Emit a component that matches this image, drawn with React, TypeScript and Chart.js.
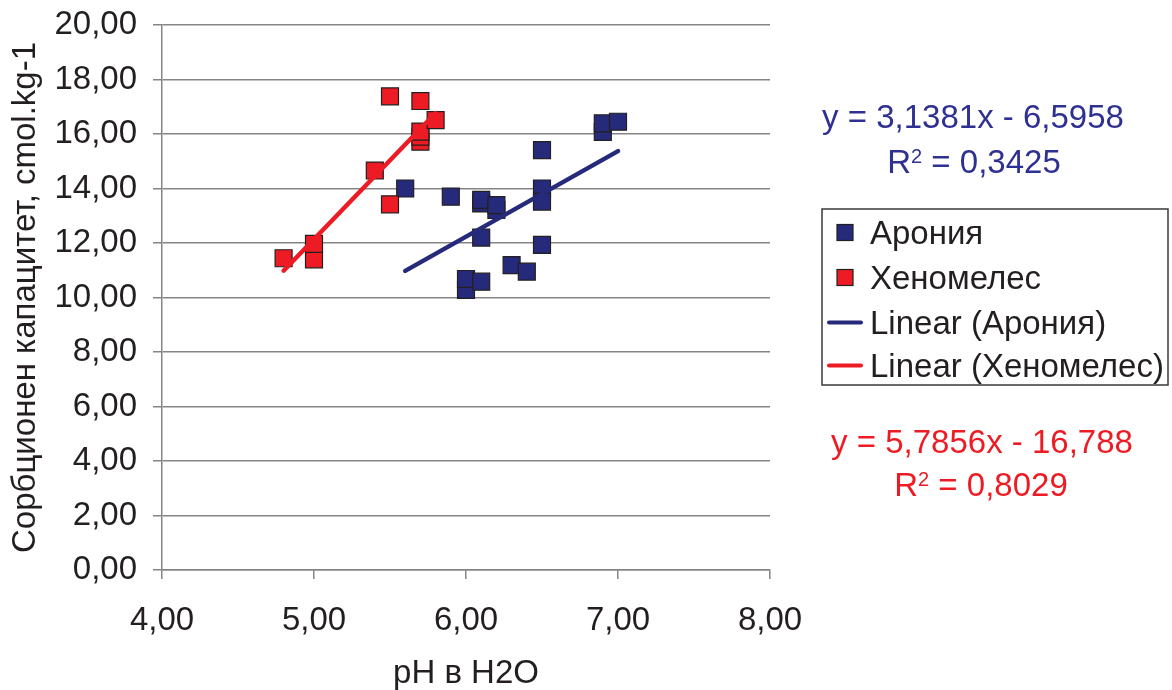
import React, { useEffect, useRef } from 'react';
import { Chart, registerables } from 'chart.js';

Chart.register(...registerables);

// ---- Data ----
const aroniaX = [5.6, 5.9, 6.1, 6.1, 6.2, 6.2, 6.1, 6.0, 6.0, 6.1, 6.3, 6.4, 6.5, 6.5, 6.5, 6.5, 6.9, 6.9, 7.0];
const aroniaY = [14.0, 13.7, 13.45, 13.58, 13.21, 13.39, 12.2, 10.28, 10.68, 10.58, 11.19, 10.95, 15.41, 14.0, 13.52, 11.93, 16.08, 16.39, 16.45];

const henoX = [4.8, 5.0, 5.0, 5.4, 5.5, 5.5, 5.7, 5.7, 5.7, 5.7, 5.8];
const henoY = [11.44, 11.4, 11.97, 14.66, 13.42, 17.38, 17.21, 15.72, 15.9, 16.09, 16.51];

const aroniaSlope = 3.1381;
const aroniaIntercept = -6.5958;
const aroniaTrendX = [5.6, 7.0];
const aroniaEq = 'y = 3,1381x - 6,5958';
const aroniaR2 = '0,3425';

const henoSlope = 5.7856;
const henoIntercept = -16.788;
const henoTrendX = [4.8, 5.8];
const henoEq = 'y = 5,7856x - 16,788';
const henoR2 = '0,8029';

const seriesNames = ['Арония', 'Хеномелес', 'Linear (Арония)', 'Linear (Хеномелес)'];
const xTitle = 'pH в H2O';
const yTitle = 'Сорбционен капацитет, cmol.kg-1';

const BLUE = '#262a7a';
const BLUE_TEXT = '#2e3192';
const RED = '#ed1c24';
const GRID = '#858585';
const FONT = "'Liberation Sans', Arial, sans-serif";
const TEXT = '#231f20';
const FS = 33;

const fmt = (v: number) => v.toFixed(2).replace('.', ',');

function drawR2(ctx: CanvasRenderingContext2D, value: string, cx: number, baseline: number, color: string) {
  ctx.fillStyle = color;
  ctx.textAlign = 'left';
  ctx.textBaseline = 'alphabetic';
  ctx.font = `${FS}px ${FONT}`;
  const wR = ctx.measureText('R').width;
  const rest = ' = ' + value;
  const wRest = ctx.measureText(rest).width;
  ctx.font = `20px ${FONT}`;
  const w2 = ctx.measureText('2').width;
  const total = wR + w2 + wRest;
  let x = cx - total / 2;
  ctx.font = `${FS}px ${FONT}`;
  ctx.fillText('R', x, baseline);
  x += wR;
  ctx.font = `20px ${FONT}`;
  ctx.fillText('2', x, baseline - 10);
  x += w2;
  ctx.font = `${FS}px ${FONT}`;
  ctx.fillText(rest, x, baseline);
}

const overlayPlugin = {
  id: 'overlay',
  afterDraw(chart: any) {
    const ctx: CanvasRenderingContext2D = chart.ctx;
    ctx.save();
    // equations
    ctx.font = `${FS}px ${FONT}`;
    ctx.textAlign = 'center';
    ctx.textBaseline = 'alphabetic';
    ctx.fillStyle = BLUE_TEXT;
    ctx.fillText(aroniaEq, 973, 128);
    drawR2(ctx, aroniaR2, 974, 173, BLUE_TEXT);
    ctx.font = `${FS}px ${FONT}`;
    ctx.textAlign = 'center';
    ctx.fillStyle = RED;
    ctx.fillText(henoEq, 982, 453);
    drawR2(ctx, henoR2, 981, 496, RED);

    // legend box
    ctx.strokeStyle = '#3a3a3a';
    ctx.lineWidth = 1.5;
    ctx.strokeRect(822, 209, 346, 176);
    const baselines = [243.5, 288.5, 333.5, 376.5];
    const colors = [BLUE, RED, BLUE, RED];
    for (let i = 0; i < 4; i++) {
      const b = baselines[i];
      const cy = b - 11;
      if (i < 2) {
        ctx.fillStyle = colors[i];
        ctx.fillRect(837, cy - 8, 16, 16);
        ctx.strokeStyle = TEXT;
        ctx.lineWidth = 1.2;
        ctx.strokeRect(837, cy - 8, 16, 16);
      } else {
        ctx.strokeStyle = colors[i];
        ctx.lineWidth = 4;
        ctx.lineCap = 'round';
        ctx.beginPath();
        ctx.moveTo(829, cy);
        ctx.lineTo(861, cy);
        ctx.stroke();
      }
      ctx.fillStyle = TEXT;
      ctx.font = `${FS}px ${FONT}`;
      ctx.textAlign = 'left';
      ctx.textBaseline = 'alphabetic';
      ctx.fillText(seriesNames[i], 870, b);
    }
    ctx.restore();
  },
};

export default function App() {
  const ref = useRef<HTMLCanvasElement>(null);
  useEffect(() => {
    if (!ref.current) return;
    const aroniaPts = aroniaX.map((x, i) => ({ x, y: aroniaY[i] }));
    const henoPts = henoX.map((x, i) => ({ x, y: henoY[i] }));
    const aroniaLine = aroniaTrendX.map((x) => ({ x, y: aroniaSlope * x + aroniaIntercept }));
    const henoLine = henoTrendX.map((x) => ({ x, y: henoSlope * x + henoIntercept }));
    const chart = new Chart(ref.current, {
      type: 'scatter',
      data: {
        datasets: [
          {
            label: seriesNames[3],
            data: henoLine,
            showLine: true,
            borderColor: RED,
            borderWidth: 4.5,
            pointRadius: 0,
            borderCapStyle: 'round',
          },
          {
            label: seriesNames[2],
            data: aroniaLine,
            showLine: true,
            borderColor: BLUE,
            borderWidth: 4.5,
            pointRadius: 0,
            borderCapStyle: 'round',
          },
          {
            label: seriesNames[1],
            data: henoPts,
            pointStyle: 'rect',
            pointRadius: 12,
            backgroundColor: RED,
            borderColor: TEXT,
            borderWidth: 1.2,
          },
          {
            label: seriesNames[0],
            data: aroniaPts,
            pointStyle: 'rect',
            pointRadius: 12,
            backgroundColor: BLUE,
            borderColor: TEXT,
            borderWidth: 1.2,
          },
        ],
      } as any,
      options: {
        animation: false,
        responsive: false,
        events: [],
        layout: { padding: { left: 0, right: 402, top: 25, bottom: 0 } },
        plugins: { legend: { display: false }, tooltip: { enabled: false } },
        scales: {
          x: {
            type: 'linear',
            min: 4,
            max: 8,
            afterFit: (s: any) => { s.height = 120; s.paddingLeft = 0; s.paddingRight = 0; },
            ticks: {
              stepSize: 1,
              callback: (v: any) => fmt(Number(v)),
              font: { family: FONT, size: FS },
              color: TEXT,
              padding: 22,
              maxRotation: 0,
            },
            grid: { drawOnChartArea: false, drawTicks: true, tickLength: 9, color: GRID, lineWidth: 1.5 },
            border: { display: true, color: GRID, width: 1.5 },
            title: {
              display: true,
              text: xTitle,
              font: { family: FONT, size: FS, lineHeight: 1 },
              color: TEXT,
              padding: { top: 0, bottom: 0 },
            },
          },
          y: {
            type: 'linear',
            min: 0,
            max: 20,
            afterFit: (s: any) => { s.width = 162; s.paddingTop = 0; s.paddingBottom = 0; },
            ticks: {
              stepSize: 2,
              callback: (v: any) => fmt(Number(v)),
              font: { family: FONT, size: FS },
              color: TEXT,
              padding: 16,
            },
            grid: { drawTicks: true, tickLength: 9, color: GRID, lineWidth: 1.5 },
            border: { display: true, color: GRID, width: 1.5 },
            title: {
              display: true,
              text: yTitle,
              font: { family: FONT, size: FS, lineHeight: 1 },
              color: TEXT,
              padding: { top: 9, bottom: 0 },
            },
          },
        },
      } as any,
      plugins: [overlayPlugin],
    });
    return () => chart.destroy();
  }, []);
  return (
    <div style={{ position: 'fixed', left: 0, top: 0, width: 1172, height: 690, background: '#fff' }}>
      <canvas ref={ref} width={1172} height={690} style={{ width: 1172, height: 690, display: 'block' }} />
    </div>
  );
}
